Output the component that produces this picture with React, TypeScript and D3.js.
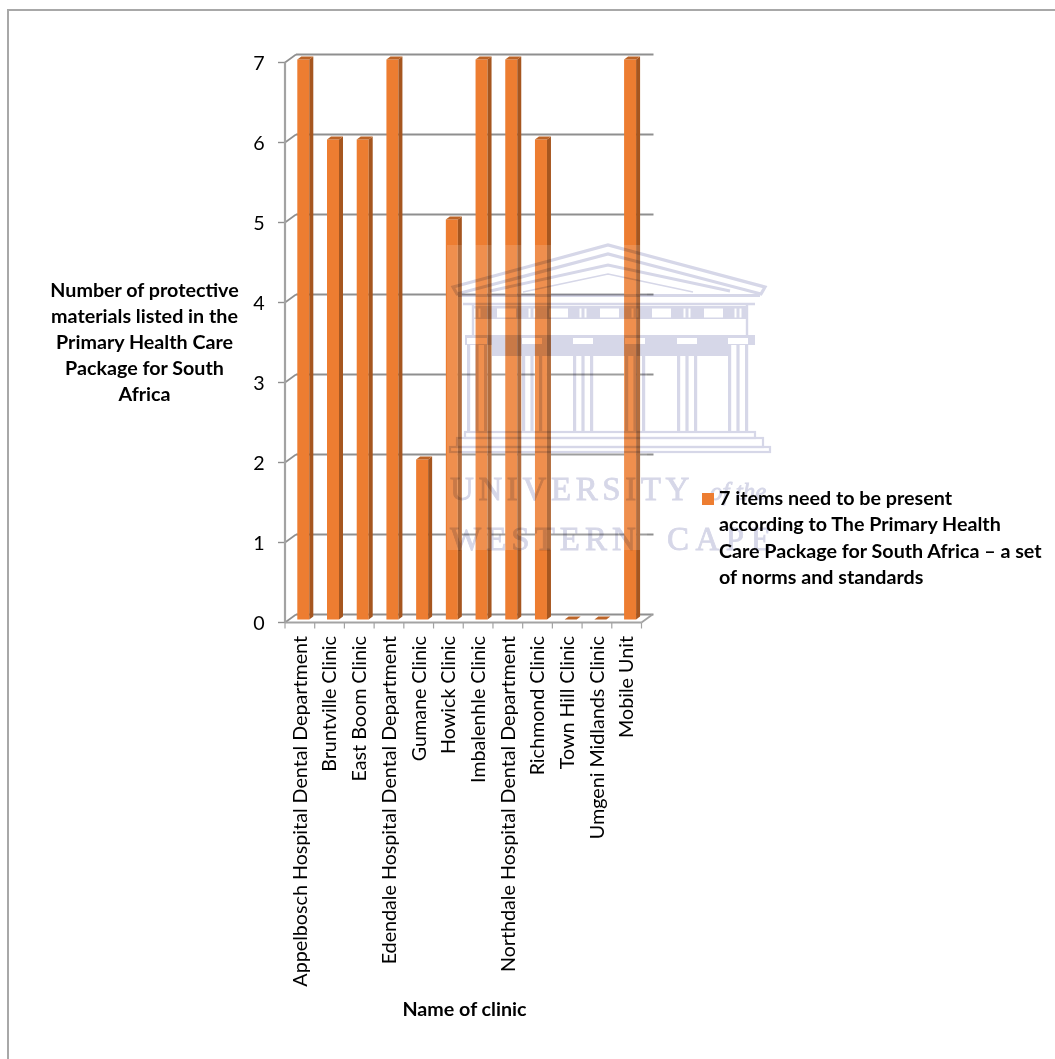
import React from "react";
import * as d3 from "d3";

const clinics = [
  "Appelbosch Hospital Dental Department",
  "Bruntville Clinic",
  "East Boom Clinic",
  "Edendale Hospital Dental Department",
  "Gumane Clinic",
  "Howick Clinic",
  "Imbalenhle Clinic",
  "Northdale Hospital Dental Department",
  "Richmond Clinic",
  "Town Hill Clinic",
  "Umgeni Midlands Clinic",
  "Mobile Unit",
];
const itemCounts = [7, 6, 6, 7, 2, 5, 7, 7, 6, 0, 0, 7];
const yTicks = [0, 1, 2, 3, 4, 5, 6, 7];
const yTitleLines = [
  "Number of protective",
  "materials listed in the",
  "Primary Health Care",
  "Package for South",
  "Africa",
];
const legendLines = [
  "7 items need to be present",
  "according to The Primary Health",
  "Care Package for South Africa \u2013 a set",
  "of norms and standards",
];
const FONT = "Lato, 'Open Sans', sans-serif";
const TEXT_SIZE = 19.7;

const DEPTH_X = 11;
const DEPTH_Y = 8;
const x = d3.scaleBand<number>().domain(d3.range(clinics.length)).range([285, 641.5]);
const y = d3.scaleLinear().domain([0, 7]).range([622.5, 62.5]);

const GRID = "#8f8f8f";
const WM = "#d6d7e8";

// Faint building emblem: pediment, frieze, six columns and the stepped base
function Emblem() {
  const columns = [477, 532, 583, 635, 687, 738];
  const windows = [497, 549, 600, 652, 704];
  return (
    <g style={{ mixBlendMode: "multiply" }}>
      <path
        d="M453 287 L608 245 L765 287 L761 294 L608 254 L457 294 Z"
        fill="none"
        stroke={WM}
        strokeWidth={3.2}
      />
      <path d="M490 291 L608 265 L730 291" fill="none" stroke={WM} strokeWidth={3} />
      <path d="M523 292 L608 274 L693 292" fill="none" stroke={WM} strokeWidth={1.6} />
      <path d="M458 295.5H760" fill="none" stroke={WM} strokeWidth={3} />
      <path d="M463 304H755M473 305V336M747 305V336" fill="none" stroke={WM} strokeWidth={2.4} />
      <path
        fillRule="evenodd"
        fill={WM}
        d={
          "M473 306H747V319H473Z" +
          windows.map((w) => `M${w} 308.5h19v9h-19Z`).join("") +
          columns.map((c) => `M${c - 3.5} 308.5h2v9h-2ZM${c + 1.5} 308.5h2v9h-2Z`).join("")
        }
      />
      <path
        fill={WM}
        fillRule="evenodd"
        d={
          "M465 335H755V345H728V356H492V345H465Z" +
          columns.map((c) => `M${c - 10} 338h20v6h-20Z`).join("")
        }
      />
      {columns.map((c) => (
        <g key={c} fill={WM}>
          <rect x={c - 10} y={345} width={3.2} height={88} />
          <rect x={c - 1.6} y={345} width={3.2} height={88} />
          <rect x={c + 7} y={345} width={3.2} height={88} />
        </g>
      ))}
      <g fill="none" stroke={WM} strokeWidth={2.2}>
        <rect x={465} y={432} width={290} height={6} />
        <rect x={457} y={438} width={306} height={9} />
        <rect x={450} y={447} width={320} height={5} />
      </g>
    </g>
  );
}

export default function App() {
  const band = x.bandwidth();
  const barW = 12;
  const sideW = 4;
  const capH = 3;
  const barX = (i: number) => (x(i) as number) + 12.3;
  const barBase = y(0) - 3;
  return (
    <svg
      width={1055}
      height={1059}
      style={{ position: "absolute", left: 0, top: 0, background: "#fff", fontFamily: FONT }}
    >
      <path d="M8 1059V10H1055" fill="none" stroke="#a8a8a8" strokeWidth={2} />

      {/* back wall gridlines with their slanted returns to the value axis */}
      {yTicks.map((t) => (
        <g key={t} stroke={GRID} fill="none">
          <line x1={285 + DEPTH_X} x2={641.5 + DEPTH_X + 1} y1={y(t) - DEPTH_Y} y2={y(t) - DEPTH_Y} strokeWidth={2.2} />
          <line x1={285} x2={285 + DEPTH_X} y1={y(t)} y2={y(t) - DEPTH_Y} strokeWidth={1.6} />
          <line x1={278} x2={285} y1={y(t)} y2={y(t)} strokeWidth={1.4} />
        </g>
      ))}
      {/* floor and axes */}
      <g stroke="#a3a3a3" fill="none">
        <line x1={285} x2={285} y1={y(7)} y2={y(0)} strokeWidth={2.2} />
        <line x1={285} x2={641.5} y1={y(0)} y2={y(0)} strokeWidth={1.8} />
        <line x1={641.5} x2={652.5} y1={y(0)} y2={y(0) - DEPTH_Y} strokeWidth={1.8} />
        {d3.range(clinics.length + 1).map((i) => {
          const tx = 285 + i * band;
          return <line key={i} x1={tx} x2={tx} y1={y(0)} y2={y(0) + 6} strokeWidth={1.2} />;
        })}
      </g>

      {/* extruded bars */}
      {itemCounts.map((v, i) => {
        const bx = barX(i);
        const top = barBase - (y(0) - y(v));
        return (
          <g key={i}>
            <rect x={bx} y={top} width={barW} height={barBase - top} fill="#ed7d31" />
            <path
              d={`M${bx + barW} ${top} l${sideW} ${-capH} V${barBase - capH} l${-sideW} ${capH} Z`}
              fill="#a6561f"
            />
            <path
              d={`M${bx} ${top} l${sideW} ${-capH} h${barW} l${-sideW} ${capH} Z`}
              fill="#bd6427"
            />
          </g>
        );
      })}

      {/* axis text */}
      {yTicks.map((t) => (
        <text key={t} x={259} y={y(t)} dy="0.36em" textAnchor="middle" fontSize={TEXT_SIZE} fill="#000">
          {t}
        </text>
      ))}
      {clinics.map((c, i) => {
        const baseX = (x(i) as number) + 21.7;
        return (
          <text
            key={c}
            transform={`translate(${baseX},636) rotate(-90)`}
            textAnchor="end"
            fontSize={TEXT_SIZE}
            fill="#000"
          >
            {c}
          </text>
        );
      })}
      {yTitleLines.map((l, i) => (
        <text key={l} x={144.5} y={297 + i * 26} textAnchor="middle" fontSize={TEXT_SIZE} fontWeight={700}>
          {l}
        </text>
      ))}
      <text x={464.5} y={1016} textAnchor="middle" fontSize={TEXT_SIZE} fontWeight={700}>
        Name of clinic
      </text>

      {/* pale tint over the marks, then the wordmark */}
      <rect x={447} y={245} width={200} height={305} fill="#ffffff" opacity={0.14} />
      <g
        fontFamily="'Liberation Serif', serif"
        fill={WM}
        stroke={WM}
        strokeWidth={0.8}
        fontSize={33}
        style={{ mixBlendMode: "multiply" }}
      >
        <text x={450} y={500} letterSpacing={4.6}>UNIVERSITY</text>
        <text x={710} y={500} fontSize={25} fontStyle="italic">of the</text>
        <text x={450} y={550} letterSpacing={5}>WESTERN</text>
        <text x={667} y={550} letterSpacing={6.5}>CAPE</text>
      </g>

      {/* legend */}
      <rect x={702} y={493} width={12} height={12} fill="#ed7d31" />
      {legendLines.map((l, i) => (
        <text key={l} x={719} y={505 + i * 26.3} fontSize={TEXT_SIZE} fontWeight={700}>
          {l}
        </text>
      ))}

      <Emblem />
    </svg>
  );
}
